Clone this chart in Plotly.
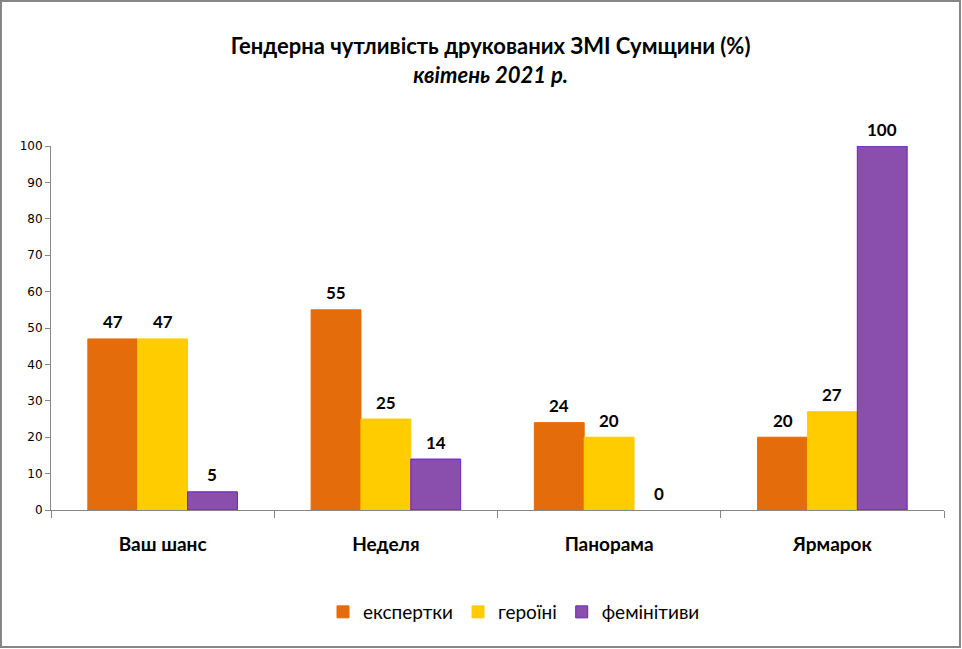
import plotly.graph_objects as go

categories = ["Ваш шанс", "Неделя", "Панорама", "Ярмарок"]
series_names = ["експертки", "героїні", "фемінітиви"]
experts = [47, 55, 24, 20]
heroines = [47, 25, 20, 27]
feminitives = [5, 14, 0, 100]
y_ticks = [0, 10, 20, 30, 40, 50, 60, 70, 80, 90, 100]

colors = ["#E46C0A", "#FFCC00", "#8A4EAD"]
line_colors = ["#E46C0A", "#FFCC00", "#6A1FD0"]
font_main = "Lato, Calibri, sans-serif"

W, H = 962, 649
ml, mr, mt, mb = 51, 18, 146, 139
pw, ph = W - ml - mr, H - mt - mb
bargap = 0.33

fig = go.Figure()
annotations = []
series = [experts, heroines, feminitives]
n = len(series)
bw = (1 - bargap) / n
for k, (name, vals, c, lc) in enumerate(zip(series_names, series, colors, line_colors)):
    fig.add_trace(go.Bar(
        x=categories, y=vals, name=name,
        marker=dict(color=c, line=dict(color=lc, width=[1 if v > 0 else 0 for v in vals])),
        cliponaxis=False,
    ))
    for i, v in enumerate(vals):
        annotations.append(dict(
            x=i + (k - (n - 1) / 2) * bw, y=v, xref="x", yref="y",
            text=f"<b>{v}</b>", showarrow=False, yanchor="middle", yshift=17,
            font=dict(family=font_main, size=17, color="#000000"),
        ))

fig.update_layout(
    width=W, height=H,
    margin=dict(l=ml, r=mr, t=mt, b=mb),
    paper_bgcolor="white", plot_bgcolor="white",
    barmode="group", bargap=bargap, bargroupgap=0,
    font=dict(family=font_main, color="#000000"),
    title=dict(
        text="<b>Гендерна чутливість друкованих ЗМІ Сумщини (%)</b><br><b><i>квітень 2021 р.</i></b>",
        x=0.51, xanchor="center", y=1 - 54 / H, yanchor="middle",
        font=dict(family=font_main, size=22, color="#000000"),
    ),
    showlegend=True,
    legend=dict(
        orientation="h", x=(514 - ml) / pw, xanchor="center",
        y=-(612 - (mt + ph)) / ph, yanchor="middle",
        font=dict(family=font_main, size=19, color="#000000"),
        itemwidth=30, traceorder="normal",
    ),
    xaxis=dict(
        showline=True, linecolor="#868686", linewidth=1,
        ticks="outside", tickson="boundaries", ticklen=7, tickcolor="#868686",
        tickfont=dict(family=font_main, size=19, color="#000000"),
        ticklabelstandoff=17,
        tickprefix="<b>", ticksuffix="</b>",
        showgrid=False,
    ),
    yaxis=dict(
        range=[0, 100], tickvals=y_ticks,
        showline=True, linecolor="#868686", linewidth=1,
        ticks="outside", ticklen=5, tickcolor="#868686",
        tickfont=dict(family="DejaVu Sans", size=12, color="#000000"),
        showgrid=False, zeroline=False,
    ),
    annotations=annotations,
    shapes=[dict(
        type="rect", xref="paper", yref="paper",
        x0=(1 - ml) / pw, x1=(960 - ml) / pw,
        y0=-(647 - mt - ph) / ph, y1=(mt + ph - 1) / ph,
        line=dict(color="#868686", width=2), fillcolor="rgba(0,0,0,0)", layer="below",
    )],
)

fig.write_html("out.html")
